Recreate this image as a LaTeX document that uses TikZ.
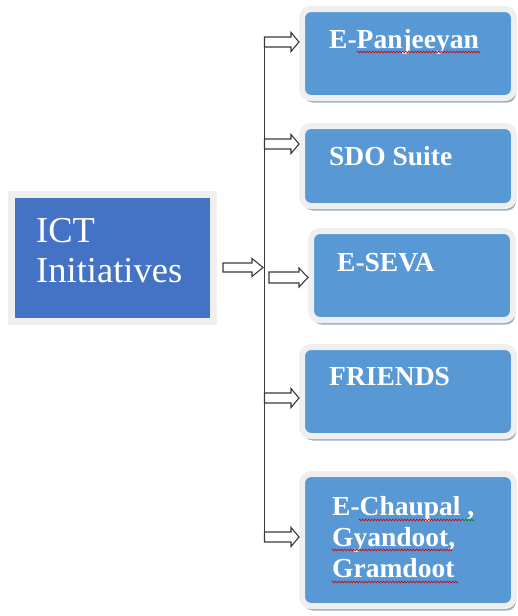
\documentclass[tikz,border=0pt]{standalone}
\usepackage{fontspec}
\setmainfont{Liberation Serif}
\usetikzlibrary{calc,shadows,decorations.pathmorphing}
\definecolor{mainblue}{HTML}{4472C4}
\definecolor{itemblue}{HTML}{5898D5}
\definecolor{rimgray}{HTML}{EFEFEF}
\definecolor{itemshadow}{HTML}{98AECB}
\definecolor{mainshadow}{HTML}{BFBFBF}
\definecolor{linegray}{HTML}{3A3A3A}
\newcommand\fatarrow[5]{%
  \draw[fatarr] let \p1=#1, \p2=#2 in
    (\x1,\y1+#3) -- (\x2-#5,\y1+#3) -- (\x2-#5,\y1+#4) -- (\x2,\y1)
    -- (\x2-#5,\y1-#4) -- (\x2-#5,\y1-#3) -- (\x1,\y1-#3) -- cycle;}
\tikzset{
  itembox/.style={draw=rimgray, line width=6pt, fill=itemblue, rounded corners=9pt,
    inner sep=0pt, minimum width=212pt,
    drop shadow={shadow xshift=2pt, shadow yshift=-4.5pt, fill=itemshadow, opacity=1}},
  mainbox/.style={draw=rimgray, line width=7pt, fill=mainblue, inner sep=0pt,
    minimum width=202pt, minimum height=127pt,
    drop shadow={shadow xshift=2pt, shadow yshift=-2pt, fill=mainshadow, opacity=1}},
  itemtext/.style={anchor=base west, inner sep=0pt, text=white,
    font=\fontsize{27.5}{31}\selectfont\bfseries},
  maintext/.style={anchor=base west, inner sep=0pt, text=white,
    font=\fontsize{36.5}{40}\selectfont},
  fatarr/.style={draw=linegray, line width=1.1pt, fill=white, line join=miter},
  spine/.style={draw=linegray, line width=1.3pt},
  spell/.style={draw=red!85!black, line width=0.6pt, decorate,
    decoration={zigzag, segment length=3pt, amplitude=0.9pt}},
  gram/.style={draw=green!55!black, line width=0.6pt, decorate,
    decoration={zigzag, segment length=3pt, amplitude=0.9pt}}
}
\begin{document}
\begin{tikzpicture}[x=1pt,y=1pt]
\useasboundingbox (0,0) rectangle (518,-616);
% main box
\node[mainbox] (ict) at (112.5,-258) {};
\node[maintext] (ictA) at (36,-242) {ICT};
\node[maintext] (ictB) at (36,-282) {Initiatives};
% item boxes
\node[itembox, minimum height=89pt] (b1) at (408,-53.5) {};
\node[itembox, minimum height=80pt] (b2) at (408,-166) {};
\node[itembox, minimum width=202pt, minimum height=89pt] (b3) at (412,-275.5) {};
\node[itembox, minimum height=89pt] (b4) at (408,-391.5) {};
\node[itembox, minimum height=132pt] (b5) at (408,-540) {};
% texts
\node[itemtext] (t1) at (329,-48) {E-Panjeeyan};
\node[itemtext] (t2) at (329,-165) {SDO Suite};
\node[itemtext] (t3) at (337,-271) {E-SEVA};
\node[itemtext] (t4) at (329,-385) {FRIENDS};
\node[itemtext] (t5a) at (332,-515) {E-Chaupal ,};
\node[itemtext] (t5b) at (332,-546) {Gyandoot,};
\node[itemtext] (t5c) at (332,-577) {Gramdoot};
% spell-check underlines
\draw[spell] (357,-52) -- (480,-52);
\draw[spell] (359,-520) -- (462,-520);
\draw[gram] (462,-520) -- (474,-520);
\draw[spell] (332,-550) -- (452,-550);
\draw[spell] (332,-582) -- (458,-582);
% spine
\coordinate (sTop) at (264.5,-37);
\coordinate (sBot) at (264.5,-542);
\draw[spine] (sTop) -- (sBot);
\coordinate (s1) at (264.5,-42);
\coordinate (s2) at (264.5,-144);
\coordinate (s4) at (264.5,-398);
\coordinate (s5) at (264.5,-537);
% arrows
\fatarrow{(s1)}{(s1 -| b1.west)}{5pt}{9.5pt}{8pt}
\fatarrow{(s2)}{(s2 -| b2.west)}{5pt}{9.5pt}{8pt}
\fatarrow{(s4)}{(s4 -| b4.west)}{5pt}{9.5pt}{8pt}
\fatarrow{(s5)}{(s5 -| b5.west)}{5pt}{9.5pt}{8pt}
\coordinate (m0) at (223,-267.5);
\coordinate (m1) at (263,-267.5);
\fatarrow{(m0)}{(m1)}{4.5pt}{9pt}{11pt}
\coordinate (e0) at (269,-277.5);
\fatarrow{(e0)}{(e0 -| b3.west)}{5.5pt}{9.5pt}{9pt}
\end{tikzpicture}
\end{document}
